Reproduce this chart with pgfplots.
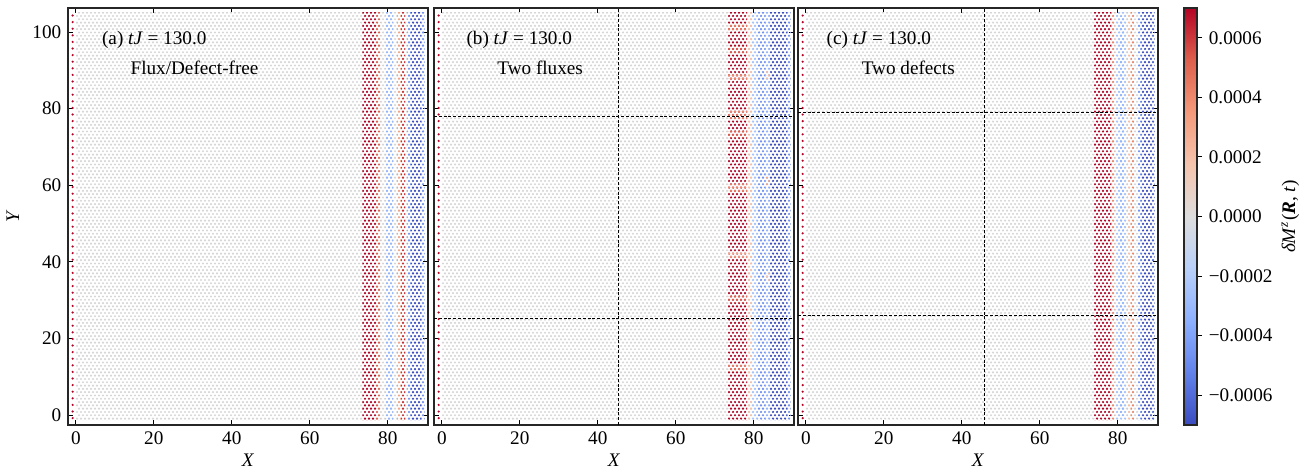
\documentclass[border=0pt]{standalone}
\usepackage{fontspec}
\setmainfont{Liberation Serif}
\usepackage{pgfplots}
\pgfplotsset{compat=1.18}
\usetikzlibrary{patterns}

\pgfdeclarepatternformonly{hexdots}{\pgfqpoint{-0.8pt}{-0.8pt}}{\pgfqpoint{2.8pt}{4.1pt}}{\pgfqpoint{2.0pt}{3.3pt}}{%
  \pgfpathcircle{\pgfqpoint{0.5pt}{0.825pt}}{0.6pt}%
  \pgfpathcircle{\pgfqpoint{1.5pt}{2.475pt}}{0.6pt}%
  \pgfusepath{fill}}

\definecolor{cR7}{RGB}{180,4,38}
\definecolor{cR6}{RGB}{200,45,50}
\definecolor{cR5}{RGB}{222,96,77}
\definecolor{cR4}{RGB}{238,133,105}
\definecolor{cR3}{RGB}{245,163,134}
\definecolor{cR2}{RGB}{246,191,166}
\definecolor{cB2}{RGB}{165,196,255}
\definecolor{cB3}{RGB}{145,180,255}
\definecolor{cB4}{RGB}{110,146,245}
\definecolor{cB6}{RGB}{72,98,210}
\definecolor{cB7}{RGB}{59,76,192}
\definecolor{cG}{RGB}{214,214,214}

% stripe: x1 x2 colour (full height)
\newcommand{\stripe}[3]{\addplot[draw=none, pattern=hexdots, pattern color=#3] coordinates {(#1,-1.3) (#2,-1.3) (#2,105.2) (#1,105.2)} -- cycle;}
% patch: x1 x2 y1 y2 colour
\newcommand{\patch}[5]{\addplot[draw=none, pattern=hexdots, pattern color=#5] coordinates {(#1,#3) (#2,#3) (#2,#4) (#1,#4)} -- cycle;}

\pgfplotsset{
  panel/.style={
    scale only axis, width=180pt, height=208.5pt,
    xmin=-2, xmax=90.3, ymin=-2.6, ymax=106.3,
    xtick={0,20,40,60,80}, ytick={0,20,40,60,80,100},
    tick align=inside, tick pos=both,
    major tick length=2.5pt,
    every tick/.style={black, line width=0.5pt},
    axis line style={line width=0.6pt, black!85},
    /pgf/number format/assume math mode=true,
    xlabel={\textit{X}},
    xlabel style={yshift=2pt},
  },
}
\newcommand{\background}{%
  \addplot[draw=none, pattern=hexdots, pattern color=cG] coordinates {(0,-1.3) (89.4,-1.3) (89.4,105.2) (0,105.2)} -- cycle;
  \addplot[cR7, line width=1.2pt, line cap=round, dash pattern=on 0pt off 3.3pt] coordinates {(-0.8,-0.8) (-0.8,104.7)};
}

\begin{document}
\fontsize{9.6}{11.5}\selectfont
\begin{tikzpicture}
\path[use as bounding box] (-34pt,-24pt) rectangle (622pt,212.5pt);

% ---------------- panel (a)
\begin{axis}[panel, at={(0pt,0pt)}, anchor=south west, ylabel={\textit{Y}}, ylabel style={yshift=0pt}]
\background
\stripe{73.5}{77.0}{cR7}
\stripe{77.0}{78.0}{cR5}
\stripe{79.4}{81.3}{cB3}
\stripe{82.4}{83.4}{cR3}
\stripe{83.4}{84.4}{cR6}
\stripe{85.0}{85.9}{cB4}
\stripe{85.9}{88.5}{cB7}
\stripe{88.5}{89.4}{cB4}
\node[anchor=west] at (axis cs:5.0,97.9) {(a) \textit{tJ} = 130.0};
\node[anchor=west] at (axis cs:12.3,90.6) {Flux/Defect-free};
\end{axis}

% ---------------- panel (b)
\begin{axis}[panel, at={(183pt,0pt)}, anchor=south west, yticklabels={}]
\background
\stripe{73.4}{78.2}{cR7}
\patch{73.4}{78.2}{100.5}{102.2}{cR4}
\patch{73.4}{78.2}{94.5}{96.2}{cR5}
\patch{73.4}{78.2}{87.5}{89.2}{cR4}
\patch{73.4}{78.2}{77.5}{79.2}{cR4}
\patch{73.4}{78.2}{72.5}{74.2}{cR5}
\patch{73.4}{78.2}{58.5}{60.2}{cR4}
\patch{73.4}{78.2}{41.0}{42.7}{cR3}
\patch{73.4}{78.2}{29.5}{31.2}{cR5}
\patch{73.4}{78.2}{11.5}{13.2}{cR4}
\stripe{78.2}{79.5}{cR2}
\stripe{79.5}{81.0}{cB2}
\stripe{81.0}{83.0}{cB4}
\stripe{83.0}{84.1}{cB3}
\patch{83.0}{84.1}{60}{62}{cR3}
\patch{83.0}{84.1}{35}{37}{cR2}
\patch{83.0}{84.1}{88}{90}{cR2}
\stripe{84.1}{88.5}{cB7}
\stripe{88.5}{89.4}{cB4}
\addplot[black, line width=0.45pt, dash pattern=on 1.5pt off 0.9pt] coordinates {(-2,77.9) (90.3,77.9)};
\addplot[black, line width=0.45pt, dash pattern=on 1.5pt off 0.9pt] coordinates {(-2,25.3) (90.3,25.3)};
\addplot[black, line width=0.45pt, dash pattern=on 1.5pt off 0.9pt] coordinates {(45.3,-2.6) (45.3,106.3)};
\node[anchor=west] at (axis cs:4.6,97.9) {(b) \textit{tJ} = 130.0};
\node[anchor=west] at (axis cs:12.5,90.6) {Two fluxes};
\end{axis}

% ---------------- panel (c)
\begin{axis}[panel, at={(365pt,0pt)}, anchor=south west, yticklabels={},
  colorbar,
  colormap={cw}{rgb255=(59,76,192) rgb255=(98,130,234) rgb255=(141,176,254) rgb255=(184,208,249) rgb255=(221,221,221) rgb255=(245,196,173) rgb255=(244,154,123) rgb255=(222,96,77) rgb255=(180,4,38)},
  point meta min=-0.0007, point meta max=0.0007,
  colorbar style={
    at={(parent axis.north east)}, anchor=north west, xshift=4.5pt,
    width=6.5pt,
    ytick={-0.0006,-0.0004,-0.0002,0,0.0002,0.0004,0.0006},
    yticklabels={−0.0006,−0.0004,−0.0002,0.0000,0.0002,0.0004,0.0006},
    scaled y ticks=false,
    ytick pos=right, yticklabel pos=right,
    tick align=outside, major tick length=2.5pt,
    every tick/.style={black, line width=0.5pt},
    axis line style={line width=0.6pt, black!85},
    ylabel={\textit{δM}\textsuperscript{\textit{z}}(\textbf{\textit{R}}, \textit{t})},
    ylabel style={yshift=2pt},
  }]
\background
\stripe{73.9}{78.3}{cR7}
\stripe{78.3}{79.1}{cR4}
\stripe{79.5}{82.1}{cB2}
\patch{80.5}{81.5}{0}{104}{cB3}
\stripe{82.4}{83.4}{cR2}
\stripe{83.4}{84.1}{cR4}
\stripe{85.2}{86.0}{cB4}
\stripe{86.0}{88.5}{cB7}
\stripe{88.5}{89.4}{cB6}
\addplot[black, line width=0.45pt, dash pattern=on 1.5pt off 0.9pt] coordinates {(-2,79.0) (90.3,79.0)};
\addplot[black, line width=0.45pt, dash pattern=on 1.5pt off 0.9pt] coordinates {(-2,26.1) (90.3,26.1)};
\addplot[black, line width=0.45pt, dash pattern=on 1.5pt off 0.9pt] coordinates {(45.8,-2.6) (45.8,106.3)};
\node[anchor=west] at (axis cs:3.6,97.9) {(c) \textit{tJ} = 130.0};
\node[anchor=west] at (axis cs:12.6,90.6) {Two defects};
\end{axis}
\end{tikzpicture}
\end{document}
